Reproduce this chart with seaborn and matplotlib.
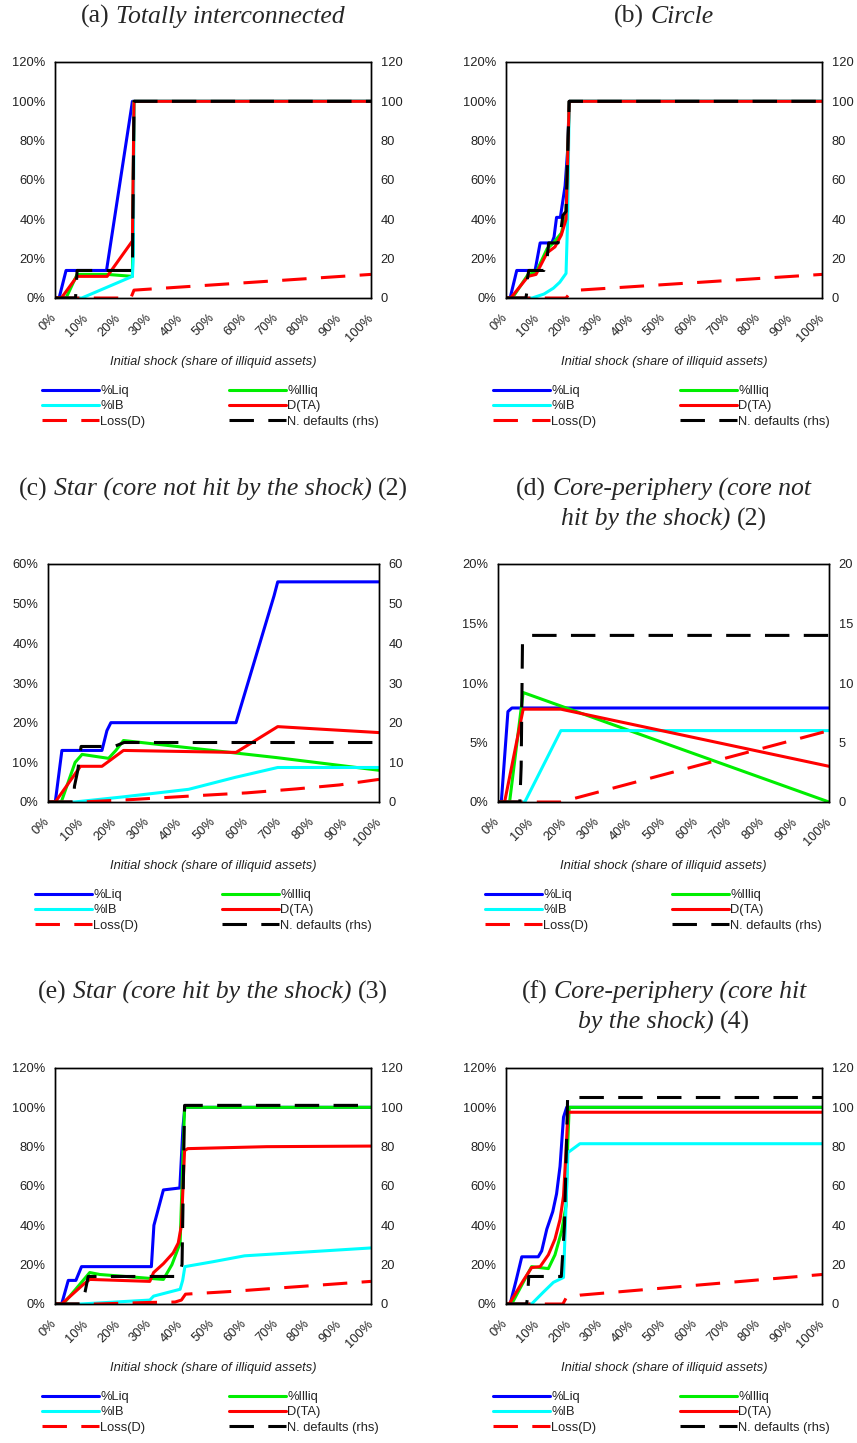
import numpy as np
import pandas as pd
import matplotlib
matplotlib.use("Agg")
import matplotlib.pyplot as plt
from matplotlib.ticker import PercentFormatter
import seaborn as sns

# x = initial shock (share of illiquid assets), y in % (N. defaults in count, rhs)
# (a) Totally interconnected
a_liq = [(0, 0), (0.013, 0), (0.035, 14), (0.163, 14), (0.245, 100), (1, 100)]
a_illiq = [(0, 0), (0.035, 0), (0.07, 12), (0.165, 12), (0.245, 11), (0.25, 100), (1, 100)]
a_ib = [(0, 0), (0.085, 0), (0.245, 11), (0.248, 22), (0.25, 100), (1, 100)]
a_dta = [(0, 0), (0.02, 0), (0.07, 11), (0.165, 11), (0.245, 29), (0.25, 100), (1, 100)]
a_loss = [(0, 0), (0.24, 0), (0.25, 4), (1, 12)]
a_ndef = [(0, 0), (0.065, 0), (0.07, 14), (0.245, 14), (0.25, 100), (1, 100)]

# (b) Circle
b_liq = [(0, 0), (0.013, 0), (0.034, 14), (0.092, 14), (0.108, 28), (0.145, 28), (0.152, 31),
         (0.16, 41), (0.172, 41), (0.187, 57), (0.195, 75), (0.2, 100), (1, 100)]
b_illiq = [(0, 0), (0.02, 0), (0.07, 12), (0.095, 13), (0.13, 25), (0.15, 28), (0.175, 33),
           (0.19, 42), (0.2, 100), (1, 100)]
b_ib = [(0, 0), (0.083, 0), (0.12, 2), (0.15, 5), (0.17, 8), (0.19, 12.5), (0.195, 40), (0.2, 100), (1, 100)]
b_dta = [(0, 0), (0.015, 0), (0.07, 11), (0.095, 12), (0.13, 23), (0.155, 26), (0.175, 32),
         (0.19, 40), (0.2, 100), (1, 100)]
b_loss = [(0, 0), (0.19, 0), (0.2, 2), (0.23, 4), (1, 12)]
b_ndef = [(0, 0), (0.063, 0), (0.066, 3), (0.068, 10), (0.072, 14), (0.12, 14), (0.13, 20),
          (0.135, 28), (0.165, 28), (0.175, 36), (0.18, 42), (0.19, 44), (0.2, 100), (1, 100)]

# (c) Star (core not hit by the shock)
c_liq = [(0, 0), (0.022, 0), (0.042, 13), (0.163, 13), (0.178, 18), (0.19, 20), (0.568, 20),
         (0.683, 52), (0.694, 55.5), (1, 55.5)]
c_illiq = [(0, 0), (0.04, 0), (0.082, 10), (0.103, 12), (0.183, 11), (0.205, 13), (0.228, 15.5),
           (0.69, 11.2), (1, 8)]
c_ib = [(0, 0), (0.08, 0), (0.228, 1.3), (0.425, 3.2), (0.565, 6.2), (0.694, 8.7), (1, 8.7)]
c_dta = [(0, 0), (0.022, 0), (0.098, 9), (0.163, 9), (0.228, 13), (0.568, 12.5), (0.694, 19), (1, 17.5)]
c_loss = [(0, 0), (0.1, 0), (0.25, 0.6), (0.45, 1.6), (0.6, 2.3), (0.75, 3.3), (0.88, 4.3), (1, 5.7)]
c_ndef = [(0, 0), (0.077, 0), (0.08, 4), (0.09, 8), (0.1, 14), (0.2, 14), (0.23, 15), (1, 15)]

# (d) Core-periphery (core not hit by the shock)
d_liq = [(0, 0), (0.01, 0), (0.03, 7.6), (0.042, 7.9), (1, 7.9)]
d_illiq = [(0, 0), (0.035, 0), (0.076, 9.2), (1, 0)]
d_ib = [(0, 0), (0.081, 0), (0.19, 6), (1, 6)]
d_dta = [(0, 0), (0.02, 0), (0.076, 7.8), (0.19, 7.8), (1, 3)]
d_loss = [(0, 0), (0.19, 0), (1, 6)]
d_ndef = [(0, 0), (0.066, 0), (0.07, 3), (0.074, 13.5), (0.1, 14), (1, 14)]

# (e) Star (core hit by the shock)
e_liq = [(0, 0), (0.021, 0), (0.042, 12), (0.066, 12), (0.084, 19), (0.305, 19), (0.313, 40),
         (0.343, 58), (0.395, 59), (0.405, 90), (0.411, 100), (1, 100)]
e_illiq = [(0, 0), (0.026, 0), (0.11, 16), (0.142, 15), (0.343, 12.5), (0.37, 20), (0.396, 31),
           (0.41, 100), (1, 100)]
e_ib = [(0, 0), (0.08, 0), (0.3, 2), (0.312, 4), (0.396, 7.5), (0.404, 12), (0.411, 19),
        (0.5, 21.5), (0.6, 24.5), (0.7, 25.5), (1, 28.5)]
e_dta = [(0, 0), (0.021, 0), (0.09, 10), (0.11, 12.5), (0.3, 11.5), (0.312, 16), (0.343, 20.5),
         (0.374, 26), (0.39, 31), (0.4, 40), (0.41, 78), (0.42, 79), (0.67, 80), (1, 80.3)]
e_loss = [(0, 0), (0.13, 0), (0.3, 0.8), (0.38, 1), (0.4, 2), (0.413, 5), (0.55, 6.3), (1, 11.5)]
e_ndef = [(0, 0), (0.084, 0), (0.095, 6), (0.105, 14), (0.39, 14), (0.402, 20), (0.41, 101), (1, 101)]

# (f) Core-periphery (core hit by the shock)
f_liq = [(0, 0), (0.013, 0), (0.032, 12), (0.05, 24), (0.102, 24), (0.113, 27), (0.129, 38),
         (0.148, 47), (0.16, 56), (0.171, 70), (0.182, 95), (0.192, 100), (1, 100)]
f_illiq = [(0, 0), (0.018, 0), (0.081, 19), (0.134, 18), (0.155, 25), (0.176, 37), (0.19, 50),
           (0.195, 80), (0.2, 100), (1, 100)]
f_ib = [(0, 0), (0.081, 0), (0.118, 6), (0.15, 11), (0.182, 13.5), (0.19, 50), (0.196, 77),
        (0.234, 81.5), (1, 81.5)]
f_dta = [(0, 0), (0.01, 0), (0.055, 12), (0.081, 18.5), (0.108, 19), (0.134, 25), (0.155, 33),
         (0.171, 43), (0.182, 55), (0.19, 78), (0.196, 97.5), (1, 97.5)]
f_loss = [(0, 0), (0.18, 0), (0.19, 3), (0.234, 4.5), (1, 15)]
f_ndef = [(0, 0), (0.065, 0), (0.068, 3), (0.072, 14), (0.175, 14), (0.185, 40), (0.195, 105), (1, 105)]

series_names = ["%Liq", "%Illiq", "%IB", "D(TA)", "Loss(D)", "N. defaults (rhs)"]
panel_data = {
    "a": [a_liq, a_illiq, a_ib, a_dta, a_loss, a_ndef],
    "b": [b_liq, b_illiq, b_ib, b_dta, b_loss, b_ndef],
    "c": [c_liq, c_illiq, c_ib, c_dta, c_loss, c_ndef],
    "d": [d_liq, d_illiq, d_ib, d_dta, d_loss, d_ndef],
    "e": [e_liq, e_illiq, e_ib, e_dta, e_loss, e_ndef],
    "f": [f_liq, f_illiq, f_ib, f_dta, f_loss, f_ndef],
}
x_ticks = np.arange(0, 1.01, 0.1)
x_tick_labels = [f"{i * 10}%" for i in range(11)]

# title pieces: (text, italic)
titles = {
    "a": [[("(a)", False), ("Totally interconnected", True)]],
    "b": [[("(b)", False), ("Circle", True)]],
    "c": [[("(c)", False), ("Star (core not hit by the shock)", True), ("(2)", False)]],
    "d": [[("(d)", False), ("Core-periphery (core not", True)],
          [("hit by the shock)", True), ("(2)", False)]],
    "e": [[("(e)", False), ("Star (core hit by the shock)", True), ("(3)", False)]],
    "f": [[("(f)", False), ("Core-periphery (core hit", True)],
          [("by the shock)", True), ("(4)", False)]],
}

# layout in pixels: left, right, top, bottom, ymax, ystep, title y
layout = {
    "a": (55, 371, 62, 298, 120, 20, 14),
    "b": (506, 822, 62, 298, 120, 20, 14),
    "c": (48, 379, 564, 802, 60, 10, 487),
    "d": (498, 829, 564, 802, 20, 5, 487),
    "e": (55, 371, 1068, 1304, 120, 20, 990),
    "f": (506, 822, 1068, 1304, 120, 20, 990),
}

W, H = 857, 1443
sns.set_style("white")
plt.rcParams["font.family"] = ["Liberation Sans", "DejaVu Sans"]

colors = ["#0000ff", "#00ee00", "#00ffff", "#ff0000", "#ff0000", "#000000"]
LW = 2.2
DASH = (0, (8, 4.7))

fig = plt.figure(figsize=(W / 100, H / 100), dpi=100)
renderer = fig.canvas.get_renderer()


def draw_title(cx, first_center_y, lines):
    size = 18.5
    gap = size * 0.25 * 100 / 72
    for i, parts in enumerate(lines):
        base_y = first_center_y + 9 + i * 30
        texts = []
        for s, italic in parts:
            t = fig.text(0, 1 - base_y / H, s, fontsize=size, va="baseline", ha="left",
                         family=["Liberation Serif"], style="italic" if italic else "normal")
            texts.append(t)
        widths = [t.get_window_extent(renderer).width for t in texts]
        total = sum(widths) + gap * (len(texts) - 1)
        x = cx - total / 2
        for t, w in zip(texts, widths):
            t.set_x(x / W)
            x += w + gap


for key, (l, r, t, b, ymax, ystep, ty) in layout.items():
    ax = fig.add_axes([l / W, 1 - b / H, (r - l) / W, (b - t) / H])
    ax2 = ax.twinx()
    handles = []
    for i, (name, pts) in enumerate(zip(series_names, panel_data[key])):
        df = pd.DataFrame(pts, columns=["x", "y"])
        target = ax2 if i == 5 else ax
        ls = DASH if i >= 4 else "-"
        sns.lineplot(data=df, x="x", y="y", ax=target, color=colors[i], lw=LW,
                     linestyle=ls, estimator=None, sort=False, label=name, legend=False)
        handles.append(target.lines[-1])

    for a in (ax, ax2):
        a.set_xlim(0, 1)
        a.set_ylim(0, ymax)
        a.set_yticks(np.arange(0, ymax + 0.01, ystep))
        a.tick_params(length=0, labelsize=9.3, pad=7, colors="#222222")
        a.set_ylabel("")
        a.set_xlabel("")
        for sp in a.spines.values():
            sp.set_color("black")
            sp.set_linewidth(1.0)
    ax.yaxis.set_major_formatter(PercentFormatter(100, decimals=0))
    ax.set_xticks(x_ticks)
    ax.set_xticklabels(x_tick_labels, rotation=45, ha="right", va="center",
                       rotation_mode="anchor")
    ax.tick_params(axis="x", pad=13)
    ax.text(0.5, -64 / (b - t), "Initial shock (share of illiquid assets)",
            transform=ax.transAxes, ha="center", va="center", fontsize=9.3,
            style="italic", color="#222222")

    draw_title((l + r) / 2, ty, titles[key])

    # legend: two columns of three rows
    leg_left = l - 13
    leg_top = b + 87
    for col, idx in enumerate([(0, 2, 4), (1, 3, 5)]):
        lx = leg_left + col * 187
        fig.legend([handles[j] for j in idx], [series_names[j] for j in idx],
                   loc="upper left", bbox_to_anchor=(lx / W, 1 - leg_top / H),
                   frameon=False, fontsize=9.3, handlelength=4.4, handletextpad=0.1,
                   borderpad=0, borderaxespad=0, labelspacing=0.25,
                   labelcolor="#222222")

fig.savefig("out.png", dpi=100)
